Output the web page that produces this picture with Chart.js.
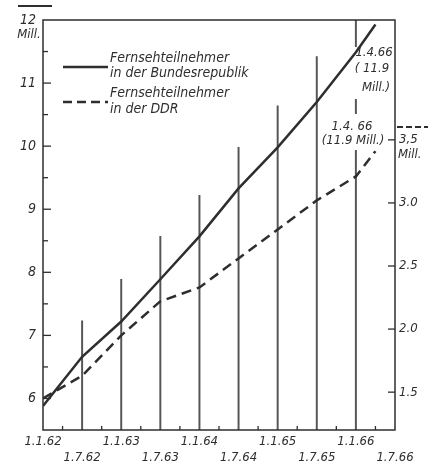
<!DOCTYPE html>
<html>
<head>
<meta charset="utf-8">
<script src="https://cdn.jsdelivr.net/npm/chart.js@4"></script>
<style>
  body { margin: 0; background: #fff; }
  canvas { display: block; }
</style>
</head>
<body>
<canvas id="myChart" width="435" height="465"></canvas>
<script>
// Fernsehteilnehmer BRD / DDR 1962-1966
const ctx = document.getElementById("myChart").getContext("2d");
const FONT = "'Liberation Sans Narrow', 'DejaVu Sans Condensed', sans-serif";
const INK = "#2e2e2e";

// dates as year fractions (62.5 = 1.7.62)
const dates = [62.0, 62.5, 63.0, 63.5, 64.0, 64.5, 65.0, 65.5, 66.0, 66.25];
// Bundesrepublik, Mill. (left axis)
const brd = [5.88, 6.66, 7.22, 7.89, 8.57, 9.33, 9.98, 10.7, 11.49, 11.93];
// DDR, Mill. (right axis)
const ddr = [1.45, 1.63, 1.95, 2.22, 2.33, 2.56, 2.79, 3.02, 3.21, 3.41];

// thin vertical lines
const barDates = [62.5, 63.0, 63.5, 64.0, 64.5, 65.0, 65.5, 66.0];
const barTops = [7.23, 7.89, 8.57, 9.22, 9.98, 10.64, 11.42, 12];

const rightTicks = [1.5, 2.0, 2.5, 3.0, 3.5];

const pts = (xs, ys) => xs.map((x, i) => ({ x: x, y: ys[i] }));

function text(c, s, x, y, align, size) {
  c.font = "italic " + (size || 14) + "px " + FONT;
  c.textAlign = align || "left";
  c.textBaseline = "middle";
  c.fillStyle = INK;
  c.fillText(s, x, y);
}

function line(c, x1, y1, x2, y2, w, dash) {
  c.save();
  c.strokeStyle = INK;
  c.lineWidth = w;
  c.setLineDash(dash || []);
  c.beginPath();
  c.moveTo(x1, y1);
  c.lineTo(x2, y2);
  c.stroke();
  c.restore();
}

const extras = {
  id: "extras",
  afterDatasetDraw(chart, args) {
    if (args.meta.type !== "bar") return;
    const c = chart.ctx;
    c.save();
    // white boxes behind the labels at 1.4.66
    c.fillStyle = "#fff";
    c.fillRect(353, 47, 42, 52);
    c.fillRect(318, 114, 72, 36);
    text(c, "1.4.66", 374, 53, "center", 13);
    text(c, "( 11.9", 372, 69, "center", 13);
    text(c, "Mill.)", 376, 88, "center", 13);
    text(c, "1.4. 66", 352, 127, "center", 13);
    text(c, "(11.9 Mill.)", 353, 141, "center", 13);
    c.restore();
  },
  afterDraw(chart) {
    const c = chart.ctx;
    const a = chart.chartArea;
    const x = chart.scales.x, y = chart.scales.y, y2 = chart.scales.y2;
    c.save();
    // frame
    c.strokeStyle = INK;
    c.lineWidth = 1.5;
    c.strokeRect(a.left, a.top, a.right - a.left, a.bottom - a.top);
    // inward ticks
    for (let v = 6; v < 12; v += 0.5) {
      const py = y.getPixelForValue(v);
      line(c, a.left, py, a.left + (v % 1 === 0 ? 8 : 5), py, 1.3);
    }
    rightTicks.forEach(v => {
      const py = y2.getPixelForValue(v);
      line(c, a.right, py, a.right - 7, py, 1.3);
    });
    for (let v = 62.25; v < 66.5; v += 0.5) {
      const px = x.getPixelForValue(v);
      line(c, px, a.bottom, px, a.bottom - 4, 1.3);
    }
    // legend
    line(c, 63, 67, 108, 67, 2.5);
    line(c, 63, 102, 108, 102, 2.5, [9, 5]);
    text(c, "Fernsehteilnehmer", 110, 58);
    text(c, "in der Bundesrepublik", 110, 73);
    text(c, "Fernsehteilnehmer", 110, 93);
    text(c, "in der DDR", 110, 109);
    // axis units
    line(c, 18, 6, 52, 6, 2);
    text(c, "Mill.", 29, 35, "center", 13);
    line(c, 397, 127, 428, 127, 2, [6, 3]);
    text(c, "Mill.", 398, 155, "left", 13);
    c.restore();
  }
};

const data = {
  datasets: [
    {
      label: "Fernsehteilnehmer in der Bundesrepublik",
      data: pts(dates, brd),
      yAxisID: "y",
      borderColor: INK,
      borderWidth: 2.5,
      pointRadius: 0,
      tension: 0,
      order: 1,
    },
    {
      label: "Fernsehteilnehmer in der DDR",
      data: pts(dates, ddr),
      yAxisID: "y2",
      borderColor: INK,
      borderWidth: 2.5,
      borderDash: [10, 6],
      pointRadius: 0,
      tension: 0,
      order: 2,
    },
    {
      type: "bar",
      label: "Stichtage",
      data: pts(barDates, barTops),
      yAxisID: "y",
      backgroundColor: "#555",
      barThickness: 1.3,
      order: 3,
    },
  ],
};

const config = {
  type: "line",
  data: data,
  plugins: [extras],
  options: {
    responsive: false,
    animation: false,
    layout: { padding: { top: 20, left: 0, right: 0, bottom: 0 } },
    plugins: { legend: { display: false }, tooltip: { enabled: false } },
    scales: {
      x: {
        type: "linear",
        min: 62,
        max: 66.5,
        offset: false,
        grid: { display: false, drawTicks: false },
        border: { display: false },
        afterFit: (s) => { s.height = 35; },
        ticks: {
          stepSize: 0.5,
          autoSkip: false,
          maxRotation: 0,
          padding: 3,
          color: INK,
          font: { family: FONT, style: "italic", size: 13, lineHeight: 1.25 },
          // 1.1.xx on the first row, 1.7.xx on the second
          callback: function (value) {
            const v = Math.round(value * 2) / 2;
            const yr = Math.floor(v);
            return v % 1 === 0 ? ["1.1." + yr, ""] : ["", "1.7." + yr];
          },
        },
      },
      y: {
        position: "left",
        min: 5.5,
        max: 12,
        grid: { display: false, drawTicks: false },
        border: { display: false },
        afterFit: (s) => { s.width = 43; },
        ticks: {
          stepSize: 0.5,
          autoSkip: false,
          padding: 7,
          color: INK,
          font: { family: FONT, style: "italic", size: 14 },
          callback: (v) => (v % 1 === 0 ? String(v) : ""),
        },
      },
      y2: {
        position: "right",
        min: 1.2,
        max: 4.45,
        grid: { display: false, drawTicks: false },
        border: { display: false },
        afterFit: (s) => { s.width = 40; },
        afterBuildTicks: (s) => { s.ticks = rightTicks.map(v => ({ value: v })); },
        ticks: {
          autoSkip: false,
          padding: 4,
          color: INK,
          font: { family: FONT, style: "italic", size: 13 },
          callback: (v) => (v === 3.5 ? "3,5" : v.toFixed(1)),
        },
      },
    },
  },
};

const myChart = new Chart(ctx, config);
</script>
</body>
</html>
